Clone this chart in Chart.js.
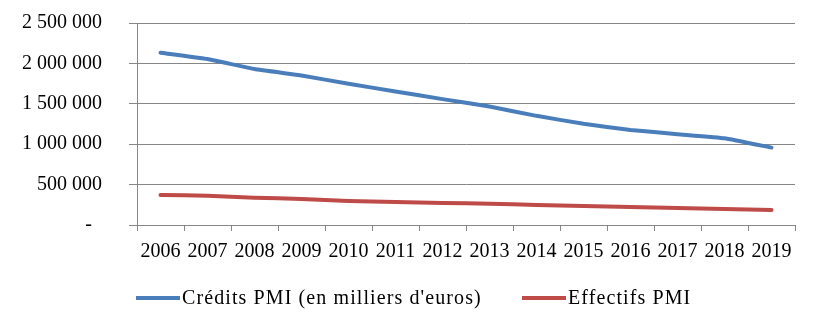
<!DOCTYPE html>
<html>
<head>
<meta charset="utf-8">
<script src="https://cdn.jsdelivr.net/npm/chart.js@4/dist/chart.umd.min.js"></script>
<style>
  html, body { margin: 0; padding: 0; background: #fff; }
  #wrap { position: relative; width: 819px; height: 329px; }
  #legend { position: absolute; left: 0; top: 284px; width: 819px; height: 26px;
            font-family: 'Liberation Serif', 'DejaVu Serif', serif; font-size: 20px; letter-spacing: 1.1px; color: #000; }
  .item { position: absolute; top: 0; line-height: 26px; white-space: nowrap; }
  .swatch { display: inline-block; width: 44px; height: 4px; vertical-align: middle; margin-right: 2px; position: relative; top: -1px; }
</style>
</head>
<body>
<div id="wrap">
  <canvas id="lineChart" width="819" height="329"></canvas>
  <div id="legend"></div>
</div>
<script>
const years = ['2006', '2007', '2008', '2009', '2010', '2011', '2012', '2013', '2014', '2015', '2016', '2017', '2018', '2019'];
const credits = [2132000, 2054000, 1930000, 1850000, 1748000, 1652000, 1558000, 1466000, 1351000, 1252000, 1177000, 1124000, 1074000, 958000];
const effectifs = [372000, 363000, 338000, 322000, 297000, 285000, 273000, 264000, 248000, 235000, 223000, 211000, 198000, 186000];
const yTicks = [0, 500000, 1000000, 1500000, 2000000, 2500000];
const seriesNames = ['Crédits PMI (en milliers d\'euros)', 'Effectifs PMI'];
const seriesColors = ['#4a7ebb', '#be4b48'];

const gridColor = '#868686';
const font = { family: "'Liberation Serif', 'DejaVu Serif', serif", size: 20 };

function formatTick(v) {
    // zero shows as an accounting dash, pushed left like the original
    if (v === 0) return '-  ';
    return String(v).replace(/\B(?=(\d{3})+(?!\d))/g, ' ');
}

// legend drawn as html so it can sit left of centre like the original
const legendEl = document.getElementById('legend');
const legendLeft = [136, 522];
seriesNames.forEach((name, i) => {
    const item = document.createElement('div');
    item.className = 'item';
    item.style.left = legendLeft[i] + 'px';
    item.innerHTML = '<span class="swatch" style="background:' + seriesColors[i] + '"></span>' + name;
    legendEl.appendChild(item);
});

const ctx = document.getElementById('lineChart').getContext('2d');

new Chart(ctx, {
    type: 'line',
    data: {
        labels: years,
        datasets: [{
            label: seriesNames[0],
            data: credits,
            borderColor: seriesColors[0],
            borderWidth: 4,
            borderCapStyle: 'round',
            pointRadius: 0,
            tension: 0.1
        }, {
            label: seriesNames[1],
            data: effectifs,
            borderColor: seriesColors[1],
            borderWidth: 4,
            borderCapStyle: 'round',
            pointRadius: 0,
            tension: 0.1
        }]
    },
    options: {
        responsive: false,
        animation: false,
        layout: { padding: { top: 23, right: 24, bottom: 0, left: 0 } },
        plugins: {
            legend: { display: false },
            tooltip: { enabled: false }
        },
        scales: {
            x: {
                offset: true,
                afterFit: axis => { axis.height = 104; },
                grid: {
                    offset: true,
                    drawOnChartArea: false,
                    tickLength: 6,
                    color: gridColor
                },
                border: { color: gridColor },
                ticks: {
                    color: '#000',
                    font: font,
                    maxRotation: 0,
                    autoSkip: false,
                    padding: 9
                }
            },
            y: {
                min: 0,
                max: 2500000,
                afterFit: axis => {
                    axis.width = 137;
                    axis.paddingTop = 0;
                    axis.paddingBottom = 0;
                },
                afterBuildTicks: axis => { axis.ticks = yTicks.map(v => ({ value: v })); },
                grid: {
                    color: gridColor,
                    tickLength: 8
                },
                border: { color: gridColor },
                ticks: {
                    color: '#000',
                    font: font,
                    padding: 27,
                    callback: v => formatTick(v)
                }
            }
        }
    }
});
</script>
</body>
</html>
